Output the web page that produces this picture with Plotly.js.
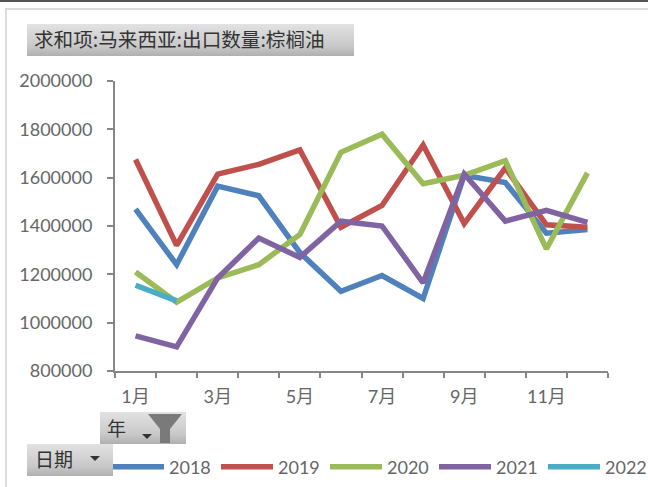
<!DOCTYPE html>
<html><head><meta charset="utf-8">
<script src="https://cdn.plot.ly/plotly-3.0.1.min.js"></script>
<style>
html,body{margin:0;padding:0;background:#fff;width:648px;height:487px;overflow:hidden}
#c{position:absolute;left:0;top:0;width:720px;height:640px}
.f{position:absolute;font-family:"Noto Sans CJK SC",sans-serif;color:#333;white-space:nowrap;background:linear-gradient(#e2e2e2,#c8c8c8 70%,#b0b0b0);z-index:5}
.frame{position:absolute;pointer-events:none;z-index:4}
</style></head><body>
<div id="c"></div>
<div class="frame" style="left:0;top:0;width:648px;height:2px;background:#555"></div>
<div class="frame" style="left:5px;top:8px;width:643px;height:2px;background:#dcdcdc"></div>
<div class="frame" style="left:5px;top:8px;width:2px;height:479px;background:#dcdcdc"></div>
<div class="f" style="left:27px;top:24px;width:327px;height:32px;line-height:30px;font-size:19.6px;padding-left:7px;box-sizing:border-box">求和项:马来西亚:出口数量:棕榈油</div>
<div class="f" style="left:100px;top:412px;width:86px;height:32px;line-height:32px;font-size:19px;padding-left:7px;box-sizing:border-box">年
<svg style="position:absolute;left:42px;top:0" width="44" height="32"><path d="M0 22h10l-5 5z" fill="#333"/><path d="M6 2h34l-12 15v14h-10v-14z" fill="#7a7a7a"/></svg></div>
<div class="f" style="left:27px;top:444px;width:86px;height:32px;line-height:30px;font-size:19px;padding-left:8px;box-sizing:border-box">日期
<svg style="position:absolute;left:62px;top:10px" width="14" height="10"><path d="M1 2h10l-5 5z" fill="#333"/></svg></div>
<script>
const months = ["1月","2月","3月","4月","5月","6月","7月","8月","9月","10月","11月","12月"];
const monthIndex = [1,2,3,4,5,6,7,8,9,10,11,12];
const shownMonths = ["1月","3月","5月","7月","9月","11月"];
const shownIndex = [1,3,5,7,9,11];
const y2018 = [1470000,1240000,1565000,1525000,1290000,1130000,1195000,1100000,1610000,1580000,1370000,1385000];
const y2019 = [1675000,1320000,1615000,1655000,1715000,1395000,1485000,1735000,1410000,1640000,1405000,1395000];
const y2020 = [1210000,1085000,1185000,1240000,1365000,1705000,1780000,1575000,1610000,1670000,1305000,1620000];
const y2021 = [945000,900000,1185000,1350000,1270000,1420000,1400000,1165000,1615000,1420000,1465000,1415000];
const y2022 = [1155000,1090000];
const yearNames = ["2018","2019","2020","2021","2022"];
const yearColors = ["#4f81bd","#c0504d","#9bbb59","#8064a2","#4bacc6"];
const yearValues = [y2018,y2019,y2020,y2021,y2022];
const traces = yearNames.map((n,i)=>({
  type:"scatter",mode:"lines",name:n,x:monthIndex.slice(0,yearValues[i].length),y:yearValues[i],
  line:{color:yearColors[i],width:5.5,shape:"linear"}
}));
const axisColor="#868686", textColor="#666666", fam='Lato,"Noto Sans CJK SC",sans-serif';
const W=720, H=640;
const layout={
  width:W,height:H,paper_bgcolor:"rgba(0,0,0,0)",plot_bgcolor:"rgba(0,0,0,0)",
  margin:{l:115,r:W-608,t:81,b:H-371},
  showlegend:true,
  legend:{orientation:"h",x:-8/493,xref:"paper",y:-96/290,yref:"paper",xanchor:"left",yanchor:"middle",
    font:{family:fam,size:18,color:textColor},itemwidth:52,entrywidth:42,entrywidthmode:"pixels",tracegroupgap:0,bgcolor:"rgba(0,0,0,0)",itemclick:false},
  xaxis:{type:"linear",range:[0.5,12.5],tickvals:shownIndex,ticktext:shownMonths,ticks:"",showgrid:false,zeroline:false,ticklabelstandoff:8,
    showline:true,linecolor:axisColor,linewidth:2,tickfont:{family:fam,size:18,color:textColor},
    minor:{tick0:0.5,dtick:1,ticks:"outside",ticklen:5,tickwidth:2,tickcolor:axisColor,showgrid:false}},
  yaxis:{range:[800000,2000000],dtick:200000,tick0:800000,ticks:"outside",ticklen:6,tickwidth:2,tickcolor:axisColor,showgrid:false,zeroline:false,ticklabelstandoff:11,
    showline:true,linecolor:axisColor,linewidth:2,tickformat:"d",tickfont:{family:fam,size:18,color:textColor}}
};
Plotly.newPlot("c",traces,layout,{displayModeBar:false,staticPlot:true});
</script>
</body></html>
